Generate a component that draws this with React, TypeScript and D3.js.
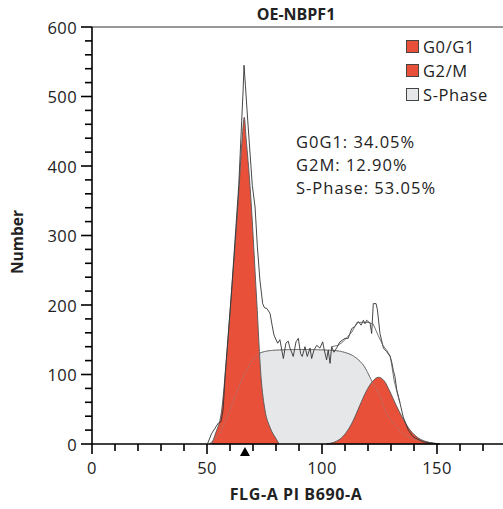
import React from "react";
import * as d3 from "d3";

// ---- data ----
const g1Peak: [number, number][] = [
  [52, 0], [53.8, 16], [56.4, 49], [57.8, 96], [60.4, 207], [64, 372], [65.3, 440],
  [66.2, 470], [67, 440], [68.7, 372], [71.6, 207], [73.5, 96], [75.2, 49], [77.4, 24],
  [80.3, 6], [81.3, 0],
];
const g2Peak: [number, number][] = [
  [102, 0], [107.8, 7], [113, 30], [116.5, 56], [119.1, 75], [121.7, 89], [124.5, 96],
  [127, 91], [129.6, 75], [132.2, 56], [134.8, 39], [138.3, 20], [141.7, 9], [145.7, 3],
  [150, 0],
];
const sPhase: [number, number][] = [
  [50.9, 0], [55.7, 17], [59.1, 42], [63, 75], [67, 105], [70, 121], [73.9, 132],
  [79.6, 135], [90, 136], [103.5, 135], [110.7, 131], [114.8, 124], [118.3, 112],
  [121.6, 91], [125.2, 68], [128.1, 44], [131, 30], [135.3, 15], [141.2, 6], [147, 2],
  [151.3, 0],
];
const rawHist: [number, number][] = [
  [50.3, 1], [52.0, 15], [54.9, 30], [56.1, 32], [57.0, 49], [58.0, 105], [60.4, 207],
  [63.8, 372], [65.1, 466], [65.7, 509], [66.1, 545], [66.7, 516], [67.7, 466], [69.7, 372],
  [70.9, 341], [71.9, 284], [73.0, 236], [74.2, 202], [75.0, 196], [76.0, 195], [77.4, 188],
  [78.3, 171], [79.1, 157], [80.7, 145], [81.7, 150], [83.2, 123], [84.3, 145], [85.3, 148],
  [86.1, 138], [87.5, 126], [88.7, 147], [89.7, 152], [90.7, 130], [91.4, 126], [92.6, 140],
  [93.6, 126], [94.8, 138], [95.5, 123], [96.5, 135], [97.7, 142], [99.1, 138], [100.3, 147],
  [101.0, 135], [102.0, 121], [102.7, 135], [103.5, 116], [104.2, 140], [105.2, 132],
  [106.5, 139], [107.8, 147], [110.0, 152], [111.4, 152], [112.9, 166], [114.3, 169],
  [115.8, 176], [117.0, 171], [118.0, 178], [118.7, 173], [119.4, 178], [120.9, 174],
  [121.6, 159], [122.3, 202], [123.5, 202], [124.1, 193], [125.2, 159], [126.7, 138],
  [128.1, 133], [129.6, 126], [130.3, 118], [131.0, 106], [131.7, 97], [132.5, 78],
  [133.9, 59], [135.3, 39], [137.5, 20], [139.7, 10], [144.0, 3], [148.4, 1], [151.3, 0],
];
const rawHist2: [number, number][] = [
  [104.2, 140], [107.0, 142], [109.1, 147], [111.3, 155], [113.0, 161], [115.2, 175],
  [117.4, 175], [120.0, 175], [122.2, 173], [124.3, 157], [126.5, 142], [128.3, 134],
  [129.6, 127], [130.4, 112], [131.3, 92], [132.6, 75], [133.9, 59],
];
const markerX = 66.5;

const xTickValues = d3.range(0, 180, 10);
const xLabelValues = [0, 50, 100, 150];
const yMajorValues = [0, 100, 200, 300, 400, 500, 600];
const yMinorValues = d3.range(0, 600, 20).filter((v) => v % 100 !== 0);

const legendLabels = ["G0/G1", "G2/M", "S-Phase"];
const legendKinds = ["red", "red", "gray"];
const statLines = ["G0G1: 34.05%", "G2M: 12.90%", "S-Phase: 53.05%"];

const title = "OE-NBPF1";
const xTitle = "FLG-A PI B690-A";
const yTitle = "Number";

// ---- styles ----
const RED = "#E9503A";
const GRAY = "#E6E7E9";
const FONT = "'Open Sans', 'Noto Sans', sans-serif";

export default function App() {
  const W = 503, H = 509;
  const x = d3.scaleLinear().domain([0, 180]).range([92, 92 + 180 * 2.3]);
  const y = d3.scaleLinear().domain([0, 600]).range([444, 27]);

  const area = d3.area<[number, number]>()
    .x((d) => x(d[0])).y0(y(0)).y1((d) => y(d[1]))
    .curve(d3.curveMonotoneX);
  const smooth = d3.line<[number, number]>()
    .x((d) => x(d[0])).y((d) => y(d[1]))
    .curve(d3.curveMonotoneX);
  const jag = d3.line<[number, number]>()
    .x((d) => x(d[0])).y((d) => y(d[1]));

  const mx = x(markerX);

  return (
    <svg width={W} height={H} style={{ position: "absolute", left: 0, top: 0, background: "#fff" }}
      fontFamily={FONT}>
      <rect width={W} height={H} fill="#fff" />
      {/* S-phase */}
      <path d={area(sPhase) ?? ""} fill={GRAY} stroke="none" />
      <path d={smooth(sPhase) ?? ""} fill="none" stroke="#666" strokeWidth={0.9} />
      {/* peaks */}
      <path d={area(g1Peak) ?? ""} fill={RED} stroke="#555" strokeWidth={0.9} />
      <path d={area(g2Peak) ?? ""} fill={RED} stroke="#555" strokeWidth={0.9} />
      <path d={smooth(sPhase) ?? ""} fill="none" stroke="#888" strokeWidth={0.8} strokeDasharray="1.5,1.5" />
      {/* raw histogram */}
      <path d={jag(rawHist) ?? ""} fill="none" stroke="#333" strokeWidth={0.9} />
      <path d={jag(rawHist2) ?? ""} fill="none" stroke="#555" strokeWidth={0.8} />

      {/* top border */}
      <line x1={92} x2={W} y1={y(600)} y2={y(600)} stroke="#333" strokeWidth={1.2} />
      {/* y axis */}
      <line x1={92} x2={92} y1={y(600)} y2={y(0)} stroke="#000" strokeWidth={1.6} />
      {yMajorValues.map((v) => (
        <g key={"ym" + v}>
          <line x1={81} x2={92} y1={y(v)} y2={y(v)} stroke="#000" strokeWidth={1.6} />
          <text x={77} y={y(v)} textAnchor="end" dominantBaseline="central" fontSize={16.5}
            letterSpacing={0.4} fill="#222">{v}</text>
        </g>
      ))}
      {yMinorValues.map((v) => (
        <line key={"yn" + v} x1={85} x2={92} y1={y(v)} y2={y(v)} stroke="#000" strokeWidth={1.6} />
      ))}
      {/* x axis */}
      <line x1={92} x2={W} y1={y(0)} y2={y(0)} stroke="#000" strokeWidth={1.6} />
      {xTickValues.map((v) => (
        <line key={"xt" + v} x1={x(v)} x2={x(v)} y1={y(0)} y2={y(0) + (xLabelValues.includes(v) ? 10 : 7)}
          stroke="#000" strokeWidth={1.6} />
      ))}
      {xLabelValues.map((v) => (
        <text key={"xl" + v} x={x(v)} y={474} textAnchor="middle" fontSize={16.5} letterSpacing={0.4} fill="#222">{v}</text>
      ))}
      {/* marker */}
      <path d={`M${mx - 5},${y(0) + 12}L${mx + 5},${y(0) + 12}L${mx},${y(0) + 3}Z`} fill="#000" />

      {/* titles */}
      <text x={296} y={20} textAnchor="middle" fontSize={16} fontWeight="bold" fill="#222">{title}</text>
      <text x={296} y={500} textAnchor="middle" fontSize={16} fontWeight="bold" letterSpacing={0.6} fill="#222">{xTitle}</text>
      <text transform="translate(23,242) rotate(-90)" textAnchor="middle" fontSize={15.5} fontWeight="bold" fill="#222">{yTitle}</text>

      {/* legend */}
      {legendLabels.map((l, i) => (
        <g key={l} transform={`translate(406,${46.5 + i * 24})`}>
          <rect x={0.5} y={-6} width={12} height={12} fill={legendKinds[i] === "red" ? RED : GRAY} stroke="#444" strokeWidth={1} />
          <text x={17} y={0} dominantBaseline="central" fontSize={16.5} letterSpacing={0.6} fill="#222">{l}</text>
        </g>
      ))}
      {/* stats */}
      {statLines.map((s, i) => (
        <text key={s} x={296} y={141 + i * 23} dominantBaseline="central" fontSize={16.5} letterSpacing={1} fill="#222">{s}</text>
      ))}
    </svg>
  );
}
